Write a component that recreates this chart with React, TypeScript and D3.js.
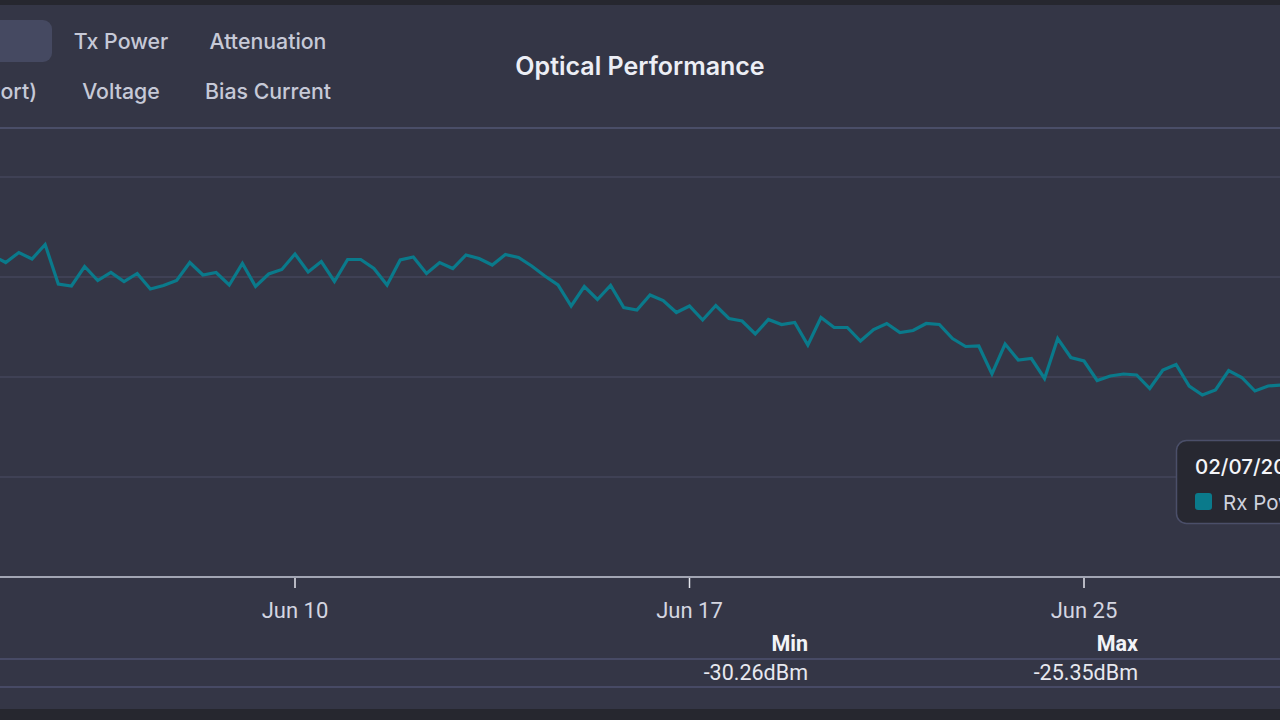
import React, { useEffect, useRef } from "react";
import * as d3 from "d3";

// Rx power samples (dBm), one every few hours, oldest first
const rxPower = [
  -25.57, -25.71, -25.51, -25.64, -25.35, -26.14, -26.18, -25.79, -26.07, -25.91,
  -26.09, -25.93, -26.24, -26.17, -26.07, -25.71, -25.96, -25.91, -26.16, -25.73,
  -26.19, -25.94, -25.85, -25.54, -25.9, -25.69, -26.09, -25.65, -25.65, -25.83,
  -26.16, -25.66, -25.6, -25.93, -25.71, -25.83, -25.56, -25.63, -25.76, -25.55,
  -25.61, -25.78, -25.98, -26.16, -26.58, -26.19, -26.45, -26.17, -26.61, -26.66,
  -26.36, -26.47, -26.71, -26.58, -26.86, -26.57, -26.83, -26.88, -27.14, -26.85,
  -26.95, -26.91, -27.36, -26.81, -27.01, -27.01, -27.28, -27.05, -26.93, -27.11,
  -27.07, -26.93, -26.95, -27.23, -27.39, -27.38, -27.94, -27.34, -27.66, -27.63,
  -28.03, -27.23, -27.61, -27.68, -28.07, -27.98, -27.94, -27.96, -28.23, -27.86,
  -27.75, -28.18, -28.36, -28.26, -27.87, -28.01, -28.28, -28.18, -28.16,
];

const tickIndex = [23, 53, 83];
const tickLabels = ["Jun 10", "Jun 17", "Jun 25"];
const yGrid = [-30, -28, -26, -24];

const tabRow1 = ["Rx Power", "Tx Power", "Attenuation"];
const tabRow2 = ["Temperature (Port)", "Voltage", "Bias Current"];

const statLabels = ["Min", "Max"];
const statValues = [-30.26, -25.35];

const tooltipDate = "02/07/2024 10:00";
const tooltipSeries = "Rx Power";
const tooltipValue = -28.16;

const W = 1280;
const H = 720;
const BG = "#343646";
const DARK = "#26272f";
const LINE = "#0a7a8b";
const UI_FONT = "Inter, 'Noto Sans', sans-serif";
const NUM_FONT = "Roboto, 'Noto Sans', sans-serif";

export default function App() {
  const ref = useRef<SVGSVGElement | null>(null);

  useEffect(() => {
    const svg = d3.select(ref.current);
    svg.selectAll("*").remove();

    const step = 13.15;
    const x0 = 295 - tickIndex[0] * step;
    const x = d3
      .scaleLinear()
      .domain([0, rxPower.length - 1])
      .range([x0, x0 + (rxPower.length - 1) * step]);
    const y = d3.scaleLinear().domain([-32, -24]).range([577, 177]);

    // panel background and dark frame strips
    svg.append("rect").attr("width", W).attr("height", H).attr("fill", BG);
    svg.append("rect").attr("width", W).attr("height", 5).attr("fill", DARK);
    svg.append("rect").attr("y", 709).attr("width", W).attr("height", 11).attr("fill", DARK);

    // metric selector tabs
    svg
      .append("rect")
      .attr("x", -120)
      .attr("y", 20)
      .attr("width", 172)
      .attr("height", 42)
      .attr("rx", 9)
      .attr("fill", "#454961");
    const tabX = [-10, 121, 268];
    const tabs = svg
      .append("g")
      .attr("font-family", UI_FONT)
      .attr("font-size", 21.3)
      .attr("font-weight", 500)
      .attr("fill", "#c6c9d7");
    tabRow1.forEach((t, i) => {
      tabs
        .append("text")
        .attr("x", i === 0 ? -40 : tabX[i])
        .attr("y", 49)
        .attr("text-anchor", i === 0 ? "end" : "middle")
        .attr("fill", i === 0 ? "#eef0f6" : null)
        .text(t);
    });
    tabRow2.forEach((t, i) => {
      tabs
        .append("text")
        .attr("x", i === 0 ? 37 : tabX[i])
        .attr("y", 99)
        .attr("text-anchor", i === 0 ? "end" : "middle")
        .text(t);
    });

    // title
    svg
      .append("text")
      .attr("x", 640)
      .attr("y", 75)
      .attr("text-anchor", "middle")
      .attr("font-family", UI_FONT)
      .attr("font-size", 25)
      .attr("font-weight", 600)
      .attr("fill", "#eceef5")
      .text("Optical Performance");

    // header separator
    svg.append("line").attr("x1", 0).attr("x2", W).attr("y1", 128).attr("y2", 128).attr("stroke", "#4a4e68").attr("stroke-width", 2);

    // horizontal gridlines
    svg
      .append("g")
      .selectAll("line")
      .data(yGrid)
      .join("line")
      .attr("x1", 0)
      .attr("x2", W)
      .attr("y1", (d) => y(d))
      .attr("y2", (d) => y(d))
      .attr("stroke", "#43465b")
      .attr("stroke-width", 1.5);

    // x axis
    svg.append("line").attr("x1", 0).attr("x2", W).attr("y1", y(-32)).attr("y2", y(-32)).attr("stroke", "#a2a5b3").attr("stroke-width", 2);
    const ticks = svg.append("g");
    tickIndex.forEach((ti, i) => {
      ticks
        .append("line")
        .attr("x1", x(ti))
        .attr("x2", x(ti))
        .attr("y1", y(-32) + 1)
        .attr("y2", y(-32) + 11)
        .attr("stroke", "#e3e5ec")
        .attr("stroke-width", 1.5);
      ticks
        .append("text")
        .attr("x", x(ti))
        .attr("y", 618)
        .attr("text-anchor", "middle")
        .attr("font-family", NUM_FONT)
        .attr("font-size", 22)
        .attr("fill", "#d4d6e1")
        .text(tickLabels[i]);
    });

    // series line
    const line = d3
      .line<number>()
      .x((_, i) => x(i))
      .y((d) => y(d));
    svg
      .append("path")
      .datum(rxPower)
      .attr("d", line)
      .attr("fill", "none")
      .attr("stroke", LINE)
      .attr("stroke-width", 3.2)
      .attr("stroke-linejoin", "miter");

    // summary table
    const colRight = [808, 1138];
    svg.append("line").attr("x1", 0).attr("x2", W).attr("y1", 659).attr("y2", 659).attr("stroke", "#474a65").attr("stroke-width", 2);
    svg.append("line").attr("x1", 0).attr("x2", W).attr("y1", 687).attr("y2", 687).attr("stroke", "#474a65").attr("stroke-width", 2);
    statLabels.forEach((s, i) => {
      svg
        .append("text")
        .attr("x", colRight[i])
        .attr("y", 651)
        .attr("text-anchor", "end")
        .attr("font-family", NUM_FONT)
        .attr("font-size", 21.5)
        .attr("font-weight", 700)
        .attr("fill", "#f2f3f7")
        .text(s);
      svg
        .append("text")
        .attr("x", colRight[i])
        .attr("y", 680)
        .attr("text-anchor", "end")
        .attr("font-family", NUM_FONT)
        .attr("font-size", 21.5)
        .attr("fill", "#e7e8ef")
        .text(`${statValues[i].toFixed(2)}dBm`);
    });

    // hover tooltip
    const tip = svg.append("g").attr("transform", "translate(1176,440)");
    tip
      .append("rect")
      .attr("x", 0.5)
      .attr("y", 0.5)
      .attr("width", 260)
      .attr("height", 83)
      .attr("rx", 10)
      .attr("fill", "#272831")
      .attr("stroke", "#4b4f69")
      .attr("stroke-width", 1.5);
    tip
      .append("text")
      .attr("x", 19)
      .attr("y", 34)
      .attr("font-family", UI_FONT)
      .attr("font-size", 20.5)
      .attr("font-weight", 500)
      .attr("fill", "#f4f5f9")
      .text(tooltipDate);
    tip.append("rect").attr("x", 19).attr("y", 53).attr("width", 17).attr("height", 17).attr("rx", 3).attr("fill", LINE);
    tip
      .append("text")
      .attr("x", 47)
      .attr("y", 70)
      .attr("font-family", UI_FONT)
      .attr("font-size", 20.5)
      .attr("fill", "#cfd2de")
      .text(`${tooltipSeries}: ${tooltipValue.toFixed(2)}dBm`);
  }, []);

  return (
    <div style={{ position: "fixed", left: 0, top: 0, width: W, height: H, overflow: "hidden" }}>
      <svg ref={ref} width={W} height={H} style={{ display: "block" }} />
    </div>
  );
}
